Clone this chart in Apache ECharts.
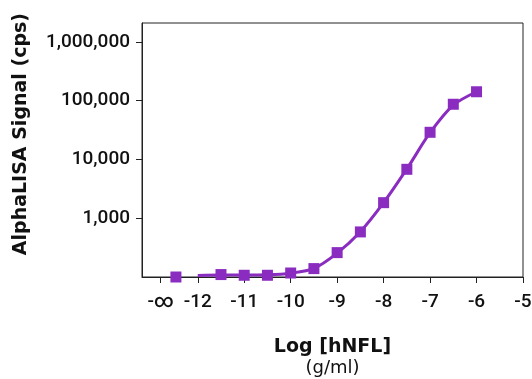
<!DOCTYPE html>
<html>
<head>
<meta charset="utf-8">
<script src="https://cdn.jsdelivr.net/npm/echarts@6/dist/echarts.min.js"></script>
<style>
  html, body { margin: 0; padding: 0; background: #fff; }
  #chart { width: 532px; height: 379px; }
</style>
</head>
<body>
<div id="chart"></div>
<script>
// measured points: log concentration (g/ml) vs AlphaLISA signal (cps)
const pointLog = [-12.47, -11.5, -11, -10.5, -10, -9.5, -9, -8.5, -8, -7.5, -7, -6.5, -6];
const pointSignal = [100, 110, 107, 107, 117, 139, 260, 585, 1840, 6800, 29000, 87000, 142000];

// fitted curve (starts at -12 without a marker)
const fitLog = [-12, -11.5, -11, -10.5, -10, -9.5, -9, -8.5, -8, -7.5, -7, -6.5, -6];
const fitSignal = [106, 108, 108, 109, 116, 140, 255, 590, 1840, 6900, 28500, 84000, 142000];

const xTicks = [-12.8, -12, -11, -10, -9, -8, -7, -6, -5];
const yTicks = [1000, 10000, 100000, 1000000];

const PURPLE = '#8a2cc0';
const FONT = 'DejaVu Sans';
const TICK_FONT = 'Roboto';

const chart = echarts.init(document.getElementById('chart'), null, { renderer: 'canvas' });

chart.setOption({
  backgroundColor: '#fff',
  animation: false,
  grid: {
    left: 142, right: 9, top: 23, bottom: 102,
    outerBoundsMode: 'none', containLabel: false,
    show: true, borderColor: '#222', borderWidth: 1
  },
  xAxis: {
    type: 'value', min: -13.2, max: -5,
    splitLine: { show: false },
    axisLine: { onZero: false, lineStyle: { color: '#222', width: 1 } },
    axisTick: { customValues: xTicks, length: 6, lineStyle: { color: '#222' } },
    axisLabel: {
      customValues: xTicks,
      color: '#111', fontFamily: TICK_FONT, fontWeight: 500, fontSize: 19, margin: 16,
      formatter: v => v < -12.5 ? '-\u221e' : String(v)
    },
    name: '{t|Log [hNFL]}\n{u|(g/ml)}',
    nameLocation: 'middle', nameGap: 60,
    nameTextStyle: {
      rich: {
        t: { fontFamily: FONT, fontSize: 19, fontWeight: 'bold', color: '#111', lineHeight: 21 },
        u: { fontFamily: FONT, fontSize: 18, color: '#111', lineHeight: 21 }
      }
    }
  },
  yAxis: {
    type: 'log', logBase: 10, min: 100, max: 2100000,
    splitLine: { show: false },
    axisLine: { lineStyle: { color: '#222', width: 1 } },
    axisTick: { customValues: yTicks, length: 6, lineStyle: { color: '#222' } },
    axisLabel: {
      customValues: yTicks,
      color: '#111', fontFamily: TICK_FONT, fontWeight: 500, fontSize: 19, margin: 12,
      formatter: v => Math.round(v).toLocaleString('en-US')
    }
  },
  graphic: [{
    type: 'text', left: 12, top: 13, rotation: Math.PI / 2,
    style: {
      text: 'AlphaLISA Signal (cps)',
      fontFamily: FONT, fontSize: 19, fontWeight: 'bold', fill: '#111'
    }
  }],
  series: [{
    type: 'line', data: fitLog.map((x, i) => [x, fitSignal[i]]),
    smooth: 0.3, symbol: 'none', clip: false,
    lineStyle: { color: PURPLE, width: 3 }
  }, {
    type: 'scatter', data: pointLog.map((x, i) => [x, pointSignal[i]]),
    symbol: 'rect', symbolSize: 11, clip: false,
    itemStyle: { color: PURPLE, opacity: 1 }
  }]
});
</script>
</body>
</html>
